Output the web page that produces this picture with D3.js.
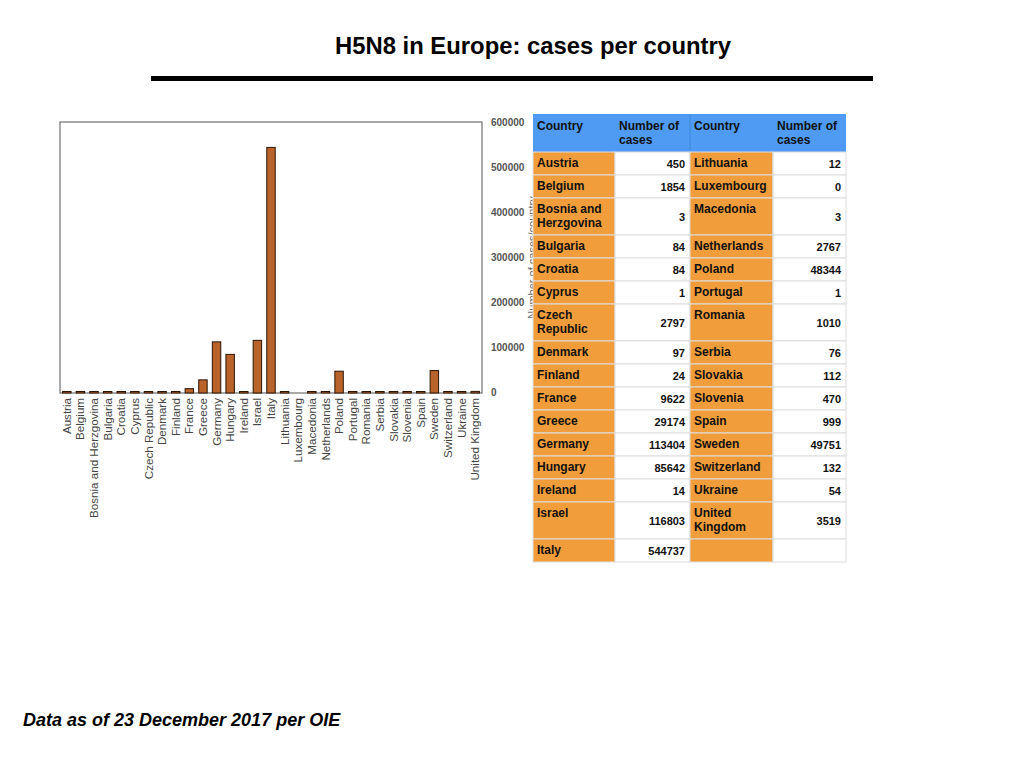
<!DOCTYPE html>
<html><head><meta charset="utf-8">
<script src="https://cdn.jsdelivr.net/npm/d3@7/dist/d3.min.js"></script>
<style>
html,body{margin:0;padding:0;background:#fff;}
svg{display:block;font-family:"Liberation Sans",Arial,Helvetica,sans-serif;}
</style></head>
<body>
<svg id="c" width="1024" height="768"></svg>
<script>
const countries = ["Austria","Belgium","Bosnia and Herzgovina","Bulgaria","Croatia","Cyprus","Czech Republic","Denmark","Finland","France","Greece","Germany","Hungary","Ireland","Israel","Italy","Lithuania","Luxembourg","Macedonia","Netherlands","Poland","Portugal","Romania","Serbia","Slovakia","Slovenia","Spain","Sweden","Switzerland","Ukraine","United Kingdom"];
const cases = [450,1854,3,84,84,1,2797,97,24,9622,29174,113404,85642,14,116803,544737,12,0,3,2767,48344,1,1010,76,112,470,999,49751,132,54,3519];
const tableNames = ["Austria","Belgium","Bosnia and Herzgovina","Bulgaria","Croatia","Cyprus","Czech Republic","Denmark","Finland","France","Greece","Germany","Hungary","Ireland","Israel","Italy","Lithuania","Luxembourg","Macedonia","Netherlands","Poland","Portugal","Romania","Serbia","Slovakia","Slovenia","Spain","Sweden","Switzerland","Ukraine","United Kingdom"];
const yTicks = [0,100000,200000,300000,400000,500000,600000];
const headers = ["Country","Number of cases","Country","Number of cases"];
const title = "H5N8 in Europe: cases per country";
const footer = "Data as of 23 December 2017 per OIE";
const yTitle = "Number of cases/country";

const svg = d3.select("#c");

// Title
svg.append("text").attr("x",533).attr("y",54).attr("text-anchor","middle")
  .attr("textLength",396).attr("lengthAdjust","spacingAndGlyphs")
  .style("font-weight","bold").style("font-size","24px").attr("fill","#000").text(title);
svg.append("rect").attr("x",151).attr("y",76).attr("width",722).attr("height",5).attr("fill","#000");

// Chart
const m = {l:60, r:482, t:122, b:393};
const x = d3.scaleBand().domain(countries).range([m.l,m.r]).paddingInner(0.38).paddingOuter(0.19);
const y = d3.scaleLinear().domain([0,600000]).range([m.b,m.t+0.5]);

svg.append("rect").attr("x",m.l).attr("y",m.t).attr("width",m.r-m.l).attr("height",m.b-m.t)
  .attr("fill","none").attr("stroke","#555").attr("stroke-width",1);

const yAxis = d3.axisRight(y).tickValues(yTicks).tickSize(0).tickPadding(9).tickFormat(d3.format("d"));
const ya = svg.append("g").attr("transform",`translate(${m.r},0)`).call(yAxis);
ya.select(".domain").remove();
ya.selectAll("text").attr("fill","#555").style("font-size","10px").style("font-weight","bold")
  .attr("dy", "0.25em");

svg.append("text").attr("transform",`translate(536,${(m.t+m.b)/2}) rotate(-90)`)
  .attr("text-anchor","middle").attr("fill","#666").style("font-size","11px").text(yTitle);

svg.append("g").selectAll("rect").data(countries).join("rect")
  .attr("x",d=>x(d)).attr("width",x.bandwidth())
  .attr("y",(d,i)=>cases[i]>0?Math.min(y(cases[i]),m.b-1.5):m.b)
  .attr("height",(d,i)=>cases[i]>0?Math.max(m.b-y(cases[i]),1.5):0)
  .attr("fill","#b9622a").attr("stroke",(d,i)=>cases[i]>0?"#2a1505":"none").attr("stroke-width",1);

const xAxis = d3.axisBottom(x).tickSize(0).tickPadding(0);
const xa = svg.append("g").attr("transform",`translate(0,${m.b})`).call(xAxis);
xa.select(".domain").remove();
xa.selectAll("text").attr("fill","#444").style("font-size","11.6px")
  .attr("transform","rotate(-90)").attr("text-anchor","end")
  .attr("x",-5).attr("y",0).attr("dy","0.35em");

// Table
const tx = 533, colW = [82,75,83,73], ty = 114, headH = 38;
const colX = [tx]; colW.forEach((w,i)=>colX.push(colX[i]+w));
const left = tableNames.slice(0,16), right = tableNames.slice(16);
const valOf = n => cases[countries.indexOf(n)];
const g = svg.append("g");
const fontStyle = s => s.style("font-size","12px").style("font-weight","bold").attr("fill","#111");

function wrap(text, width){
  const tmp = fontStyle(svg.append("text"));
  const words = text.split(" "); const lines=[]; let cur="";
  words.forEach(w=>{
    const t = cur?cur+" "+w:w; tmp.text(t);
    if(tmp.node().getComputedTextLength()>width && cur){lines.push(cur);cur=w;} else cur=t;
  });
  if(cur) lines.push(cur); tmp.remove(); return lines;
}
// header
g.append("rect").attr("x",tx).attr("y",ty).attr("width",colX[4]-tx).attr("height",headH).attr("fill","#4f9bf3");
headers.forEach((h,i)=>{
  const lines = wrap(h, colW[i]-8);
  const t = fontStyle(g.append("text")).attr("x",colX[i]+4).attr("y",ty+16);
  lines.forEach((l,k)=>t.append("tspan").attr("x",colX[i]+4).attr("dy",k?14:0).text(l));
});
g.append("line").attr("x1",colX[2]).attr("x2",colX[2]).attr("y1",ty).attr("y2",ty+headH).attr("stroke","#3f88dd");
let yy = ty+headH;
for(let r=0;r<left.length;r++){
  const cells = [left[r], right[r]];
  const wr = cells.map((c,i)=>c?wrap(c, colW[i*2]-8):[]);
  const nl = Math.max(1, ...wr.map(w=>w.length));
  const h = nl===1?23:37;
  [0,1].forEach(i=>{
    g.append("rect").attr("x",colX[i*2]).attr("y",yy).attr("width",colW[i*2]).attr("height",h)
      .attr("fill","#f19d3b").attr("stroke","#e0e0e0").attr("stroke-width",1);
    g.append("rect").attr("x",colX[i*2+1]).attr("y",yy).attr("width",colW[i*2+1]).attr("height",h)
      .attr("fill","#fff").attr("stroke","#dcdcdc").attr("stroke-width",1);
    if(cells[i]){
      const t = fontStyle(g.append("text")).attr("x",colX[i*2]+4).attr("y",yy+15);
      wr[i].forEach((l,k)=>t.append("tspan").attr("x",colX[i*2]+4).attr("dy",k?14:0).text(l));
      fontStyle(g.append("text")).attr("x",colX[i*2+2]-5).attr("y",yy+h/2+4)
        .attr("text-anchor","end").style("font-size","11px").text(valOf(cells[i]));
    }
  });
  yy += h;
}

// Footer
svg.append("text").attr("x",23).attr("y",726).style("font-size","18px").style("font-weight","bold")
  .style("font-style","italic").attr("fill","#000").text(footer);
</script>
</body></html>
